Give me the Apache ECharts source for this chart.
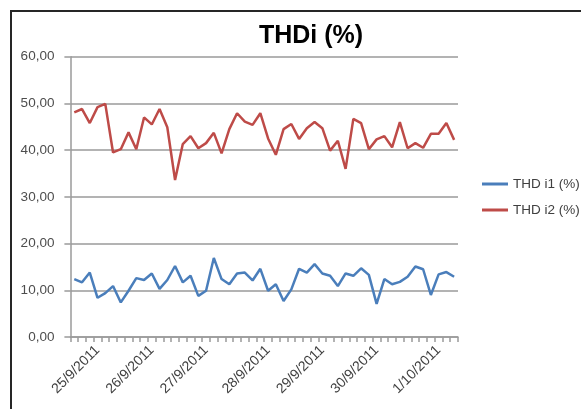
<!DOCTYPE html>
<html>
<head>
<meta charset="utf-8">
<script src="https://cdn.jsdelivr.net/npm/echarts@6/dist/echarts.min.js"></script>
<style>
html,body{margin:0;padding:0;background:#fff;}
#chart{width:581px;height:409px;}
</style>
</head>
<body>
<div id="chart"></div>
<script>
var title = 'THDi (%)';
var seriesNames = ['THD i1 (%)', 'THD i2 (%)'];
var tickLabels = ['25/9/2011', '26/9/2011', '27/9/2011', '28/9/2011', '29/9/2011', '30/9/2011', '1/10/2011'];
var labelIndex = [3, 10, 17, 25, 32, 39, 47];
var yTickLabels = ['0,00', '10,00', '20,00', '30,00', '40,00', '50,00', '60,00'];

var thdI1 = [12.4, 11.7, 13.8, 8.4, 9.4, 10.9, 7.4, 9.9, 12.6, 12.2,
             13.6, 10.3, 12.2, 15.2, 11.7, 13.1, 8.8, 9.9, 16.9, 12.4,
             11.3, 13.6, 13.8, 12.1, 14.6, 9.9, 11.3, 7.7, 10.2, 14.6,
             13.8, 15.6, 13.6, 13.1, 10.9, 13.6, 13.1, 14.7, 13.3, 7.1,
             12.4, 11.3, 11.8, 12.9, 15.1, 14.5, 9.0, 13.4, 13.9, 12.9];
var thdI2 = [48.1, 48.8, 45.8, 49.2, 49.9, 39.5, 40.2, 43.8, 40.2, 47.0,
             45.5, 48.8, 44.9, 33.6, 41.3, 43.0, 40.4, 41.5, 43.7, 39.3,
             44.5, 47.9, 46.1, 45.4, 47.9, 42.5, 39.0, 44.5, 45.6, 42.4,
             44.7, 46.0, 44.7, 39.9, 42.0, 36.0, 46.7, 45.8, 40.2, 42.3,
             43.0, 40.6, 46.0, 40.4, 41.5, 40.5, 43.5, 43.5, 45.8, 42.2];

var categories = thdI1.map(function (v, i) {
  var k = labelIndex.indexOf(i);
  return k >= 0 ? tickLabels[k] : '';
});

var chart = echarts.init(document.getElementById('chart'), null, {renderer: 'canvas'});
var font = '"Liberation Sans", Arial, sans-serif';
chart.setOption({
  animation: false,
  backgroundColor: '#ffffff',
  title: {
    text: title,
    left: 306, top: 19,
    textAlign: 'center',
    textStyle: {fontFamily: font, fontSize: 25, fontWeight: 'bold', color: '#000'}
  },
  graphic: [{
    type: 'rect', silent: true, z: 100,
    shape: {x: 11, y: 11, width: 700, height: 500},
    style: {fill: 'none', stroke: '#262626', lineWidth: 2}
  }],
  legend: {
    orient: 'vertical',
    left: 477, top: 172,
    icon: 'rect', itemWidth: 26, itemHeight: 3, itemGap: 12,
    textStyle: {fontFamily: font, fontSize: 13.5, color: '#404040'},
    data: seriesNames
  },
  grid: {left: 70.4, right: 123, top: 56.7, bottom: 72, containLabel: false},
  xAxis: {
    type: 'category',
    data: categories,
    boundaryGap: true,
    axisLine: {lineStyle: {color: '#9a9a9a', width: 1.5}},
    axisTick: {show: true, interval: 0, length: 5, lineStyle: {color: '#9a9a9a', width: 1.5}},
    axisLabel: {interval: 0, rotate: 45, margin: 11, fontFamily: font, fontSize: 14, color: '#404040'},
    splitLine: {show: false}
  },
  yAxis: {
    type: 'value', min: 0, max: 60, interval: 10,
    axisLine: {show: true, lineStyle: {color: '#9a9a9a', width: 1.5}},
    axisTick: {show: true, length: 6, lineStyle: {color: '#9a9a9a', width: 1.5}},
    axisLabel: {margin: 16, fontFamily: font, fontSize: 13.5, color: '#4d4d4d',
      formatter: function (v) { return yTickLabels[Math.round(v / 10)]; }},
    splitLine: {show: true, lineStyle: {color: '#9a9a9a', width: 1.5}}
  },
  series: [
    {name: seriesNames[0], type: 'line', data: thdI1, symbol: 'none',
     lineStyle: {color: '#4a7ebb', width: 2.5}, itemStyle: {color: '#4a7ebb'}},
    {name: seriesNames[1], type: 'line', data: thdI2, symbol: 'none',
     lineStyle: {color: '#be4b48', width: 2.5}, itemStyle: {color: '#be4b48'}}
  ]
});
</script>
</body>
</html>
